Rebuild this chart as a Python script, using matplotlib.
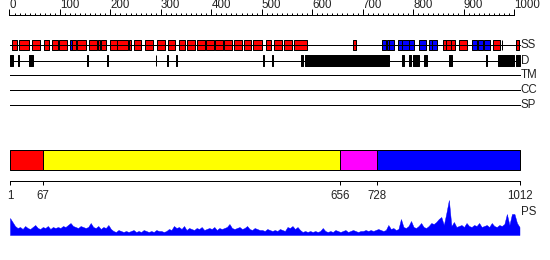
"""
Protein feature overview: ruler, SS / D / TM / CC / SP tracks, domains and PS profile
"""
import numpy as np
import matplotlib
matplotlib.use("Agg")
import matplotlib.pyplot as plt

SEQ_LEN = 1012

# secondary structure elements: H = helix (red), E = strand (blue)
ss_start = [5, 19, 45, 68, 84, 98, 120, 124, 134, 158, 175, 181, 199, 213, 237,
            247, 269, 292, 314, 336, 352, 372, 390, 407, 425, 445, 465, 483, 508,
            524, 544, 564, 681, 739, 748, 752, 770, 779, 792, 812, 831, 838, 860,
            866, 876, 891, 917, 929, 941, 958, 976, 1004]
ss_end = [15, 39, 60, 78, 96, 114, 124, 132, 152, 173, 179, 191, 213, 235, 241,
          261, 284, 308, 328, 348, 368, 388, 405, 423, 441, 461, 479, 500, 518,
          540, 560, 590, 687, 746, 752, 762, 779, 792, 802, 825, 838, 847, 866,
          876, 883, 907, 927, 938, 952, 972, 977, 1010]
ss_type = list("HHHHHHEHHHHHHHH" "HHHHHHHHHHHHHH" "HHHHEEEEEEEEEHH" "HHEEEHHH")

# disordered regions
dis_start = [1, 17, 39, 154, 193, 290, 313, 331, 502, 520, 578, 586, 778, 792,
             800, 822, 871, 944, 969, 1005]
dis_end = [7, 19, 46, 155, 195, 291, 314, 332, 505, 523, 582, 753, 783, 796,
           812, 828, 878, 946, 1000, 1012]

# domains
dom_start = [1, 67, 656, 728]
dom_end = [67, 656, 728, 1012]
dom_color = ["#ff0000", "#ffff00", "#ff00ff", "#0000ff"]
dom_ticks = [1, 67, 656, 728, 1012]

# PS score, one reading every 5 residues starting at residue 1
ps_first, ps_step = 1, 5
ps_score = [
    17, 13, 9, 7, 8, 6, 9, 7, 6, 8, 10, 7, 6, 8, 7, 9, 6, 8, 7, 8,
    7, 9, 8, 10, 12, 9, 8, 7, 9, 8, 7, 8, 12, 8, 7, 9, 6, 8, 7, 10,
    6, 4, 3, 5, 4, 3, 4, 3, 4, 5, 3, 4, 3, 5, 4, 3, 4, 3, 5, 4,
    4, 3, 4, 6, 5, 9, 7, 8, 6, 9, 5, 7, 6, 5, 7, 6, 8, 5, 6, 7,
    6, 8, 5, 7, 6, 7, 8, 11, 7, 6, 7, 8, 6, 7, 9, 6, 5, 7, 6, 5,
    5, 4, 6, 5, 4, 5, 4, 6, 5, 4, 8, 7, 9, 6, 8, 5, 3, 4, 3, 4,
    3, 4, 3, 4, 7, 4, 3, 4, 3, 5, 4, 3, 4, 5, 3, 4, 5, 4, 3, 4,
    4, 5, 4, 5, 4, 5, 6, 5, 4, 5, 10, 6, 7, 5, 6, 16, 8, 7, 9, 14,
    8, 7, 9, 12, 8, 7, 9, 12, 11, 13, 16, 18, 10, 22, 35, 9, 13, 8, 9, 10,
    8, 12, 9, 8, 10, 9, 12, 8, 9, 10, 8, 12, 9, 8, 10, 9, 11, 21, 10, 21,
    21, 12, 8,
]

TEXT = dict(fontsize=8.3, family="Liberation Sans", color="#222222")


def main():
    """
    Draw the chart
    """
    fig = plt.figure(figsize=(5.5, 2.6), dpi=100)
    ax = fig.add_axes([0, 0, 1, 1])
    scale = 510 / (SEQ_LEN - 1)  # pixels per residue
    ax.set_xlim(1 - 10 / scale, 1 + 540 / scale)
    ax.set_ylim(260, 0)
    ax.axis("off")
    lw = 0.72

    # ruler
    ax.plot([0, 1000], [15, 15], color="black", lw=lw)
    minor = np.arange(0, 1001, 10)
    ax.vlines(minor, 12.5, 15, color="black", lw=lw)
    major = np.arange(0, 1001, 100)
    ax.vlines(major, 9, 15, color="black", lw=lw)
    for m in major:
        ax.text(m, 11, str(m), ha="left", va="bottom", **TEXT)

    # SS track
    ax.plot([1, SEQ_LEN], [45, 45], color="black", lw=lw)
    for s, e, t in zip(ss_start, ss_end, ss_type):
        ax.broken_barh([(s, e - s)], (40, 10),
                       facecolors="#ff0000" if t == "H" else "#0000ff",
                       edgecolor="black", linewidth=lw)
    # D track
    ax.plot([1, SEQ_LEN], [60.5, 60.5], color="black", lw=lw)
    ax.broken_barh([(s, e - s) for s, e in zip(dis_start, dis_end)], (55, 11),
                   facecolors="black", edgecolor="black", linewidth=lw)
    # TM, CC, SP
    for y in (75, 90, 105):
        ax.plot([1, SEQ_LEN], [y, y], color="black", lw=lw)
    for y, name in zip((45, 60.5, 75, 90, 105), ("SS", "D", "TM", "CC", "SP")):
        ax.text(SEQ_LEN + 1, y, name, ha="left", va="center", **TEXT)

    # domains
    for s, e, c in zip(dom_start, dom_end, dom_color):
        ax.broken_barh([(s, e - s)], (150, 20), facecolors=c,
                       edgecolor="black", linewidth=lw)
    ax.plot([1, SEQ_LEN], [180.5, 180.5], color="black", lw=lw)
    ax.vlines(dom_ticks, 180.5, 185, color="black", lw=lw)
    for t in dom_ticks:
        ax.text(t, 190, str(t), ha="center", va="top", **TEXT)

    # PS profile
    pos = ps_first + ps_step * np.arange(len(ps_score))
    ax.fill_between(pos, 235, 235 - np.array(ps_score), color="#0000ff", lw=0.3)
    ax.text(SEQ_LEN + 1, 212, "PS", ha="left", va="center", **TEXT)

    fig.savefig("out.png", dpi=100)


if __name__ == "__main__":
    main()
